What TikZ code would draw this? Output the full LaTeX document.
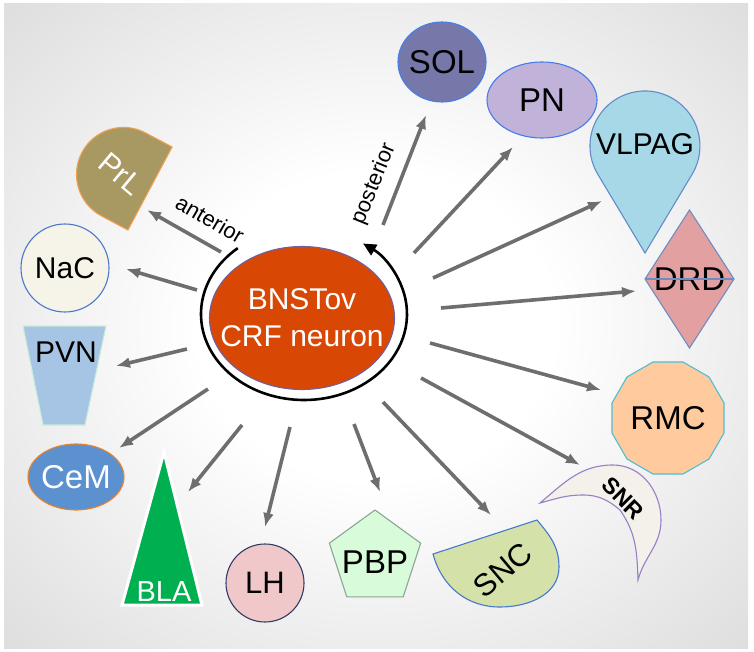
\documentclass[tikz,border=0pt]{standalone}
\usepackage{fontspec}
\setmainfont{Liberation Sans}
\usepackage{tikz}
\usetikzlibrary{shapes.geometric,arrows.meta,calc}

\definecolor{bnstfill}{RGB}{216,72,4}
\definecolor{bnstline}{RGB}{112,96,160}
\definecolor{arrowgray}{RGB}{110,110,110}
\definecolor{solfill}{RGB}{118,120,170}
\definecolor{solline}{RGB}{70,125,235}
\definecolor{pnfill}{RGB}{192,178,216}
\definecolor{vlpagfill}{RGB}{166,216,232}
\definecolor{vlpagline}{RGB}{100,140,200}
\definecolor{drdfill}{RGB}{226,160,160}
\definecolor{drdline}{RGB}{110,140,195}
\definecolor{rmcfill}{RGB}{255,202,158}
\definecolor{rmcline}{RGB}{80,190,210}
\definecolor{snrfill}{RGB}{243,241,233}
\definecolor{snrline}{RGB}{150,128,198}
\definecolor{sncfill}{RGB}{212,226,170}
\definecolor{sncline}{RGB}{70,120,205}
\definecolor{pbpfill}{RGB}{216,252,218}
\definecolor{pbpline}{RGB}{140,165,150}
\definecolor{lhfill}{RGB}{240,200,202}
\definecolor{lhline}{RGB}{50,60,100}
\definecolor{blafill}{RGB}{0,176,80}
\definecolor{cemfill}{RGB}{92,145,208}
\definecolor{cemline}{RGB}{235,130,40}
\definecolor{pvnfill}{RGB}{166,196,228}
\definecolor{pvnline}{RGB}{200,238,215}
\definecolor{nacfill}{RGB}{246,243,233}
\definecolor{nacline}{RGB}{75,120,205}
\definecolor{prlfill}{RGB}{168,152,98}
\definecolor{prlline}{RGB}{240,160,80}

\pgfdeclareradialshading{bgglow}{\pgfpoint{0bp}{0bp}}{color(0bp)=(white); color(12bp)=(white); color(50bp)=(black!21); color(72bp)=(black!23)}

\begin{document}
\begin{tikzpicture}[x=1pt, y=1pt,
    font=\fontsize{33}{33}\selectfont,
    >={Latex[length=14pt,width=11pt]},
    area/.style={line width=1.1pt, inner sep=0pt, outer sep=0pt},
    proj/.style={->, line width=3.6pt, draw=arrowgray},
    turn/.style={-{Triangle[length=13pt,width=12pt]}, line width=2.6pt, draw=black},
    dirlab/.style={font=\fontsize{22}{22}\selectfont, inner sep=1pt},
    wlab/.style={text=white}
  ]
  % frame
  \useasboundingbox (0,0) rectangle (754,-652);
  \shade[shading=bgglow] (4,-4) rectangle (748,-648);

  % source neuron
  \node[ellipse, area, draw=bnstline, fill=bnstfill, minimum width=185pt, minimum height=143pt,
    label={[text=white, align=center, font=\fontsize{30}{37}\selectfont]center:BNSTov\\CRF neuron}] (bnst) at (302,-318) {};
  \coordinate (loopc) at ($(bnst.center)+(2,4)$);
  \draw[turn] ([shift={(130:103 and 86)}]loopc) arc[start angle=130, end angle=415, x radius=103, y radius=86];
  \node[dirlab, rotate=-30] (ant) at (210,-219) {anterior};
  \node[dirlab, rotate=68] (post) at (374,-184) {posterior};

  % targets, clockwise from top
  \node[ellipse, area, draw=solline, fill=solfill, minimum width=88pt, minimum height=80pt, label={center:SOL}] (sol) at (442,-62) {};
  \node[ellipse, area, draw=solline, fill=pnfill, minimum width=110pt, minimum height=76pt, label={center:PN}] (pn) at (542,-100) {};
  \draw[area, draw=vlpagline, fill=vlpagfill] (645,-253) -- (692.1,-174.3) arc[start angle=-31, end angle=211, radius=55] -- cycle;
  \node[font=\fontsize{30}{30}\selectfont] (vlpag) at (645,-144) {VLPAG};
  \node[diamond, area, draw=drdline, fill=drdfill, minimum width=89pt, minimum height=138pt, label={center:DRD}] (drd) at (689.5,-279) {};
  \draw[area, draw=drdline] (drd.west) -- (drd.east);
  \node[regular polygon, regular polygon sides=12, area, draw=rmcline, fill=rmcfill, minimum size=116pt, label={center:RMC}] (rmc) at (668,-418) {};
  \draw[area, draw=snrline, fill=snrfill] (540,-503) to[out=40,in=180] (613,-465) to[out=0,in=90] (661,-520)
    to[out=-90,in=75] (638,-580) to[out=92,in=-55] (620,-510) to[out=140,in=0] (583,-495) to[out=180,in=15] (540,-503) -- cycle;
  \node[font=\bfseries\fontsize{23}{23}\selectfont, rotate=-45] (snr) at (623,-498) {SNR};
  \draw[area, draw=sncline, fill=sncfill] (433,-554) -- (537,-520) to[out=-50,in=90] (559,-567)
    to[out=-90,in=0] (500,-607) to[out=180,in=-75] (433,-554) -- cycle;
  \node[rotate=40, font=\fontsize{31}{31}\selectfont] (snc) at (503,-570) {SNC};
  \node[regular polygon, regular polygon sides=5, area, draw=pbpline, fill=pbpfill, minimum size=96pt, label={[yshift=-4pt]center:PBP}] (pbp) at (375,-558) {};
  \node[ellipse, area, draw=lhline, fill=lhfill, minimum width=78pt, minimum height=78pt, label={[font=\fontsize{31}{31}\selectfont]center:LH}] (lh) at (265,-583) {};
  \draw[line width=3pt, draw=white, fill=blafill] (164,-452) -- (202,-605) -- (122,-605) -- cycle;
  \node[wlab, font=\fontsize{29}{29}\selectfont] (bla) at (164,-592) {BLA};
  \node[ellipse, area, draw=cemline, fill=cemfill, minimum width=96pt, minimum height=66pt, label={[wlab]center:CeM}] (cem) at (76,-477) {};
  \draw[area, draw=pvnline, fill=pvnfill] (23,-326) -- (106,-326) -- (85,-425) -- (43,-425) -- cycle;
  \node[font=\fontsize{30}{30}\selectfont] (pvn) at (66,-352) {PVN};
  \node[ellipse, area, draw=nacline, fill=nacfill, minimum width=88pt, minimum height=88pt, label={[font=\fontsize{30}{30}\selectfont]center:NaC}] (nac) at (65,-268) {};
  \begin{scope}[shift={(150,-188.5)}, rotate=152]
    \draw[area, draw=prlline, fill=prlfill] (0,-47) -- (0,47) -- (30,47) arc[start angle=90, end angle=-90, radius=47] -- cycle;
  \end{scope}
  \node[wlab, font=\fontsize{30}{30}\selectfont, rotate=-40] (prl) at (121,-174) {PrL};

  % projections
  \coordinate (prl-a) at (221,-252); \coordinate (prl-b) at (147,-210);
  \coordinate (nac-a) at (197,-290); \coordinate (nac-b) at (126,-269);
  \coordinate (pvn-a) at (187,-349); \coordinate (pvn-b) at (116,-366);
  \coordinate (cem-a) at (208,-389); \coordinate (cem-b) at (119,-448);
  \coordinate (bla-a) at (242,-425); \coordinate (bla-b) at (188,-492);
  \coordinate (lh-a) at (290,-427);  \coordinate (lh-b) at (265,-527);
  \coordinate (pbp-a) at (354,-424); \coordinate (pbp-b) at (380,-492);
  \coordinate (snc-a) at (383,-402); \coordinate (snc-b) at (491,-515);
  \coordinate (snr-a) at (421,-378); \coordinate (snr-b) at (580,-465);
  \coordinate (rmc-a) at (430,-343); \coordinate (rmc-b) at (601,-390);
  \coordinate (drd-a) at (441,-308); \coordinate (drd-b) at (636,-291);
  \coordinate (vlpag-a) at (433,-278); \coordinate (vlpag-b) at (602,-201);
  \coordinate (pn-a) at (414,-253);  \coordinate (pn-b) at (513,-147);
  \coordinate (sol-a) at (383,-225); \coordinate (sol-b) at (426,-115);
  \draw[proj] (prl-a) -- (prl-b);
  \draw[proj] (nac-a) -- (nac-b);
  \draw[proj] (pvn-a) -- (pvn-b);
  \draw[proj] (cem-a) -- (cem-b);
  \draw[proj] (bla-a) -- (bla-b);
  \draw[proj] (lh-a) -- (lh-b);
  \draw[proj] (pbp-a) -- (pbp-b);
  \draw[proj] (snc-a) -- (snc-b);
  \draw[proj] (snr-a) -- (snr-b);
  \draw[proj] (rmc-a) -- (rmc-b);
  \draw[proj] (drd-a) -- (drd-b);
  \draw[proj] (vlpag-a) -- (vlpag-b);
  \draw[proj] (pn-a) -- (pn-b);
  \draw[proj] (sol-a) -- (sol-b);
\end{tikzpicture}
\end{document}
